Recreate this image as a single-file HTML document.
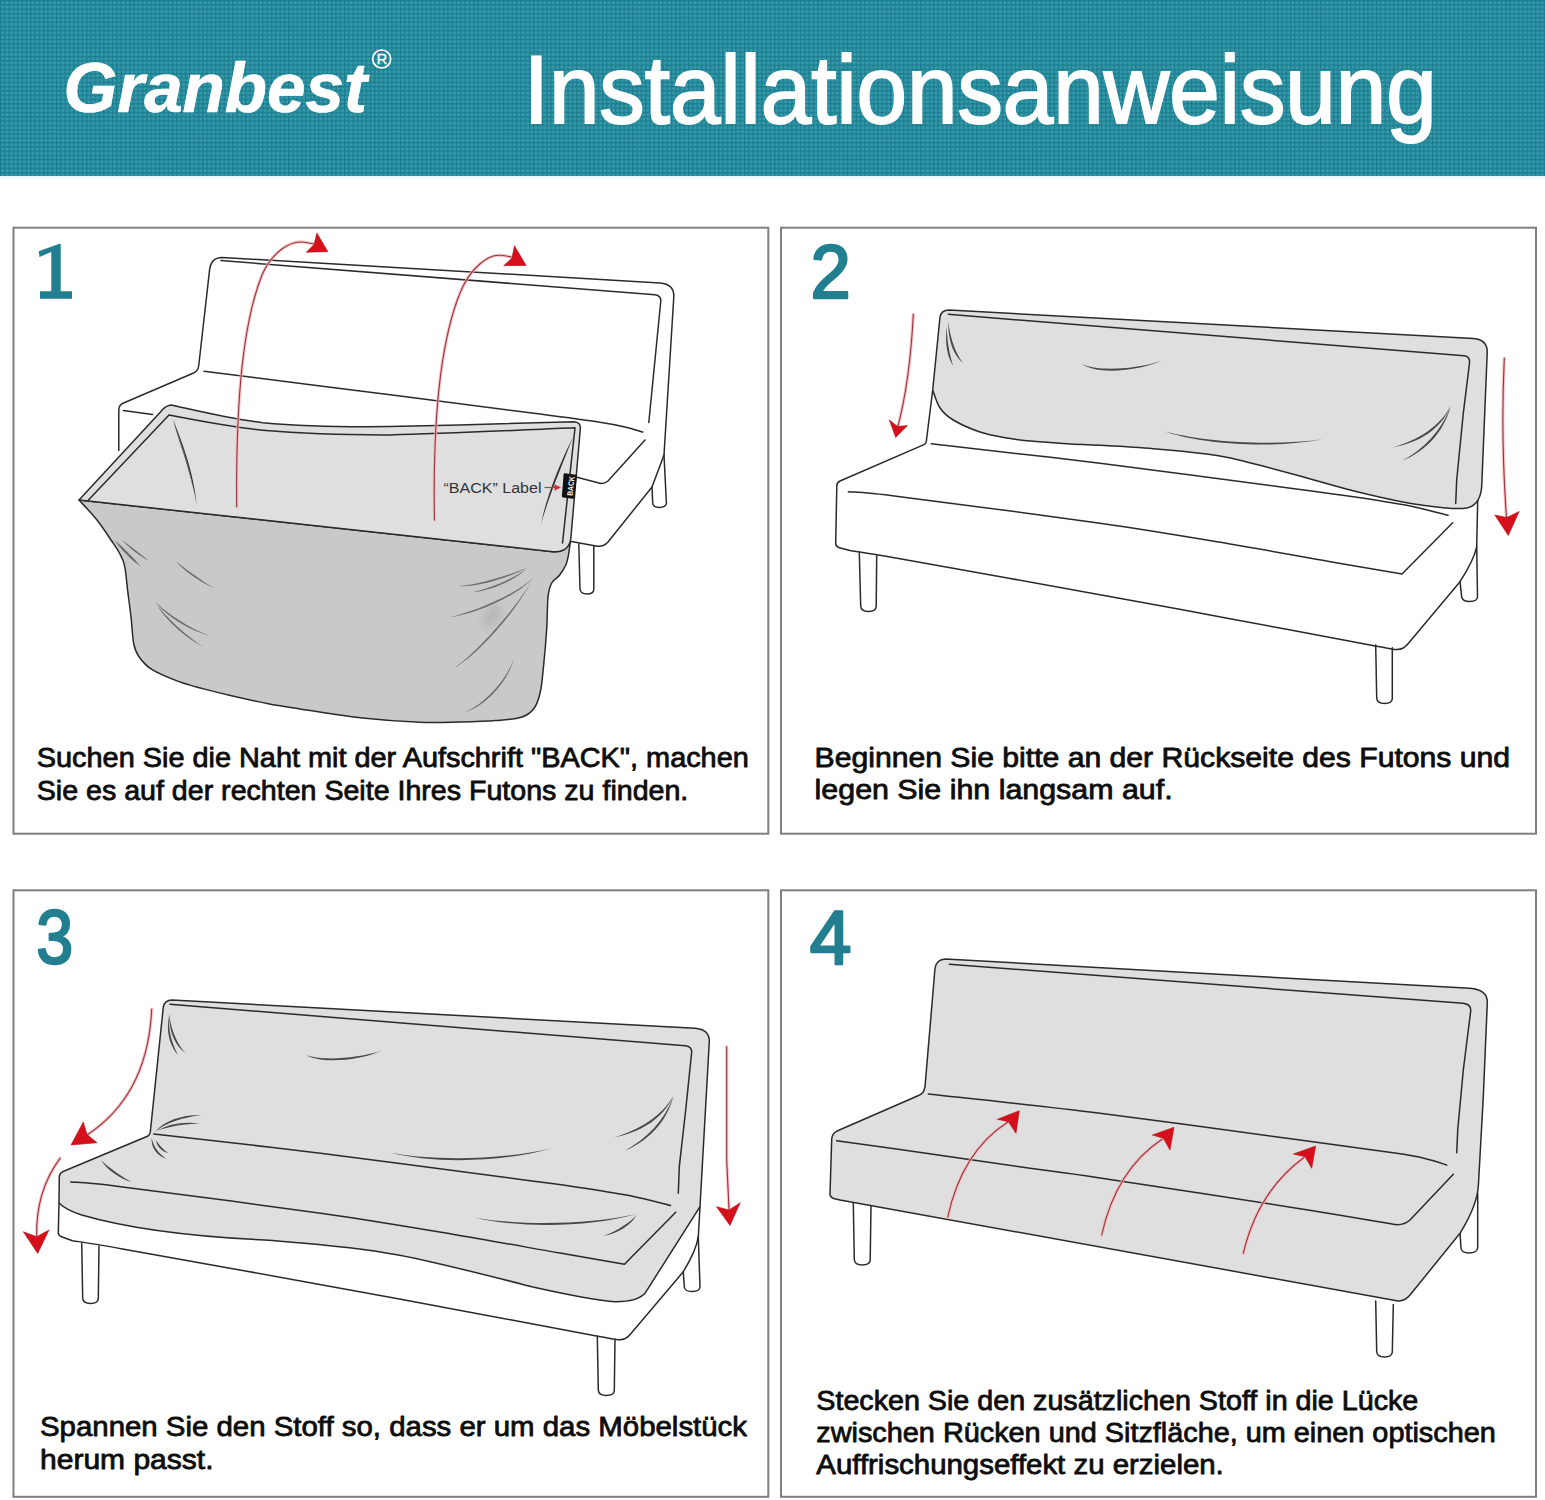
<!DOCTYPE html>
<html lang="de">
<head>
<meta charset="utf-8">
<title>Installationsanweisung</title>
<style>
html,body{margin:0;padding:0;background:#fff;}
body{width:1545px;height:1500px;overflow:hidden;font-family:"Liberation Sans",sans-serif;}
svg{display:block;position:absolute;left:0;top:0;}
.ln{fill:none;stroke:#2a2a2a;stroke-width:1.5;stroke-linecap:round;stroke-linejoin:round;}
.cv{fill:#dfdfdf;stroke:#2a2a2a;stroke-width:1.5;stroke-linejoin:round;}
.red{fill:none;stroke:#93363f;stroke-width:1.1;stroke-linecap:round;}
.halo{fill:none;stroke:#f9b4b6;stroke-width:3.2;stroke-linecap:round;opacity:0.8;}
.ah{fill:#d6101a;stroke:#b0101a;stroke-width:0.6;stroke-linejoin:round;}
.t{font-family:"Liberation Sans",sans-serif;font-size:27.5px;fill:#0d0d0d;stroke:#0d0d0d;stroke-width:0.8;stroke-linejoin:round;}
.num{font-family:"Liberation Sans",sans-serif;font-weight:bold;fill:#217f90;}
</style>
</head>
<body>
<svg width="1545" height="1500" viewBox="0 0 1545 1500">
<defs>
<pattern id="grid" width="4.3" height="4.3" patternUnits="userSpaceOnUse">
<rect width="4.3" height="4.3" fill="#3499aa"/>
<rect width="4.3" height="1.3" fill="#1c7d8f"/>
<rect width="1.3" height="4.3" fill="#1c7d8f"/>
</pattern>
<filter id="blur" x="-100%" y="-100%" width="300%" height="300%"><feGaussianBlur stdDeviation="4"/></filter>
</defs>
<g id="header">
<rect x="0" y="0" width="1545" height="176" fill="url(#grid)"/>
<rect x="0" y="176" width="1545" height="2.5" fill="#e9f8fa"/>
<text x="63.5" y="112.3" font-family="Liberation Sans, sans-serif" font-weight="bold" font-style="italic" font-size="70" fill="#fff" stroke="#fff" stroke-width="0.7" textLength="303.5" lengthAdjust="spacingAndGlyphs">Granbest</text>
<circle cx="381.7" cy="59" r="9" fill="none" stroke="#fff" stroke-width="1.7"/>
<text x="381.9" y="64.2" text-anchor="middle" font-family="Liberation Sans, sans-serif" font-size="14.5" fill="#fff" stroke="#fff" stroke-width="0.3">R</text>
<text x="523.7" y="123.3" font-family="Liberation Sans, sans-serif" font-size="96" fill="#fff" stroke="#fff" stroke-width="2" textLength="913" lengthAdjust="spacingAndGlyphs">Installationsanweisung</text>
</g>
<g id="frames" fill="#fff" stroke="#7f7f7f" stroke-width="2">
<rect x="13.5" y="227.7" width="754.8" height="606"/>
<rect x="781" y="227.7" width="755" height="606"/>
<rect x="13.5" y="890.3" width="754.8" height="606.5"/>
<rect x="781" y="890.3" width="755" height="606.5"/>
</g>
<g id="nums">
<path d="M38.7 251.3 L58.7 244 L60.7 244 L60.7 291.3 L72 291.3 L72 298.7 L40 298.7 L40 291.3 L51.3 291.3 L51.3 252 L39.5 256.9 Z" fill="#217f90"/>
<g font-family="Liberation Sans, sans-serif" font-size="75" fill="#217f90" stroke="#217f90" stroke-width="2.5" stroke-linejoin="round">
<text transform="translate(810.4 298.3) scale(0.964 1.013)">2</text>
<text transform="translate(36.2 963.3) scale(0.884 1.017)">3</text>
<text transform="translate(809.7 964) scale(1 1.005)">4</text>
</g>
</g>
<g id="p1">
<path class="ln" d="M118.8 450.6 L118.8 410 Q119 405 123 403.3 L193 373.3 Q198 371 198.7 366 L209.5 270.7 Q210.6 257.6 222 257.4 L660 282.9 Q674.5 284 673.8 297 L664 455 L666.4 503 Q666.3 507.3 659.3 507.5 Q652.8 507.3 652.7 503 L652 487"/>
<path class="ln" d="M221 260.6 L655 294.8 Q661.5 295.5 660.7 302 L648.8 422.5"/>
<path class="ln" d="M204.0 371.3 C236.7 375.4 344.0 388.9 400.0 396.0 C456.0 403.1 506.7 409.6 540.0 414.0 C573.3 418.4 585.8 420.1 600.0 422.3 C614.2 424.5 617.9 425.4 625.0 427.0 C632.1 428.6 639.8 431.2 642.7 432.0"/>
<path class="ln" d="M123.4 410.6 L152.5 414.6"/>
<path class="ln" d="M645 440 L608 481 Q603 485 596 482.3 L577 477.3"/>
<path class="ln" d="M664 455 L652 487 L608 542 Q603 547.5 596 546 L570 541.3"/>
<path class="ln" d="M578.8 544 L580 589 Q580.5 594 587 594 Q593.5 594 593.8 589.5 L593.8 546.5"/>
<path d="M79 500 Q316 525.3 553 551.7 Q566 552.5 570.5 541 C570.1 543.5 569.1 552.0 568.3 556.0 C567.5 560.0 567.2 562.0 565.7 565.3 C564.2 568.5 561.6 572.5 559.3 575.5 C557.0 578.5 553.6 579.4 551.7 583.0 C549.8 586.6 548.8 589.4 548.0 597.0 C547.2 604.6 547.5 617.1 546.7 628.7 C546.0 640.3 544.6 656.2 543.5 666.7 C542.4 677.2 541.9 685.0 540.3 692.0 C538.7 699.0 537.2 704.3 534.0 708.5 C530.8 712.7 527.6 715.3 521.3 717.3 C515.0 719.3 506.2 719.7 496.0 720.5 C485.8 721.3 472.7 721.7 460.0 722.0 C447.3 722.3 436.7 723.0 420.0 722.3 C403.3 721.6 380.0 720.0 360.0 717.8 C340.0 715.6 315.3 711.2 300.0 708.9 C284.7 706.6 280.1 706.1 268.3 703.8 C256.5 701.5 240.2 697.8 229.4 695.3 C218.6 692.8 212.2 691.3 203.6 688.9 C195.0 686.5 186.3 684.4 177.7 681.1 C169.1 677.9 158.3 673.5 151.8 669.4 C145.3 665.3 141.8 660.8 138.8 656.5 C135.8 652.2 135.0 650.1 133.7 643.6 C132.4 637.1 132.1 626.3 131.1 617.7 C130.1 609.1 128.9 600.4 127.8 591.8 C126.7 583.2 126.0 572.4 124.6 565.9 C123.2 559.4 121.7 557.3 119.4 553.0 C117.1 548.7 114.7 545.5 111.0 540.0 C107.3 534.5 102.3 526.7 97.0 520.0 C91.7 513.3 82.0 503.3 79.0 500.0 Z" fill="#c9c9c9" stroke="#2a2a2a" stroke-width="1.5" stroke-linejoin="round"/>
<ellipse cx="492" cy="616" rx="7" ry="13" transform="rotate(28 492 616)" fill="#b6b6b6" filter="url(#blur)"/>
<path class="cv" d="M79 500 L160 412.6 Q164.5 406 171 405 C190 409 230 419 262.7 422.7 C300 426 350 427 389.4 426.5 C450 425.5 520 423 574 421.7 Q581 422 580.3 429 L570.8 538.8 Q569 551 556 551.8 L553 551.7 Q316 525.3 79 500 Z"/>
<path class="ln" d="M88 500.5 L169 415 C190 419 230 427 262.7 430.3 C300 433.5 350 435 389.4 434.9 C450 433.5 520 430 575 427.8 L562.5 543"/>
<path d="M172.8 419.0 C178.8 440.3 190.8 470.3 196.8 505.0 C193.2 469.7 181.2 439.7 172.8 419.0 Z" fill="#333"/><path d="M173.5 422.0 C179.2 442.2 187.2 462.2 193.0 488.0 C188.8 461.8 180.8 441.8 173.5 422.0 Z" fill="#666"/><path d="M573.0 437.0 C560.8 461.6 546.8 494.6 541.0 524.0 C549.2 495.4 563.2 462.4 573.0 437.0 Z" fill="#333"/>
<path d="M114.2 540.0 C121.2 549.8 131.2 559.8 141.4 567.2 C132.8 558.2 122.8 548.2 114.2 540.0 Z" fill="#6e6e6e"/>
<path d="M122.0 540.0 C129.3 547.9 139.3 555.9 148.5 560.7 C140.7 554.1 130.7 546.1 122.0 540.0 Z" fill="#6e6e6e"/>
<path d="M117.0 542.0 C124.2 551.8 132.2 559.8 139.0 564.7 C133.8 558.2 125.8 550.2 117.0 542.0 Z" fill="#6e6e6e"/>
<path d="M176.4 561.4 C180.4 567.9 199.4 581.9 215.2 588.5 C200.6 580.1 181.6 566.1 176.4 561.4 Z" fill="#6e6e6e"/>
<path d="M155.7 601.5 C163.4 614.0 187.4 630.0 211.3 636.4 C188.6 628.0 164.6 612.0 155.7 601.5 Z" fill="#6e6e6e"/>
<path d="M157.0 604.7 C163.2 616.8 183.2 636.8 203.6 646.8 C184.8 635.2 164.8 615.2 157.0 604.7 Z" fill="#6e6e6e"/>
<path d="M458.0 586.2 C478.3 587.1 508.3 578.1 527.7 567.2 C507.7 575.9 477.7 584.9 458.0 586.2 Z" fill="#6e6e6e"/>
<path d="M473.2 592.0 C488.4 591.0 512.4 582.0 526.4 569.1 C511.6 580.0 487.6 589.0 473.2 592.0 Z" fill="#6e6e6e"/>
<path d="M449.1 617.3 C475.5 614.0 515.5 597.0 534.0 577.4 C514.5 595.0 474.5 612.0 449.1 617.3 Z" fill="#6e6e6e"/>
<path d="M451.7 669.8 C475.8 656.8 512.8 615.8 531.5 581.8 C511.2 614.2 474.2 655.2 451.7 669.8 Z" fill="#6e6e6e"/>
<path d="M464.3 712.3 C482.8 707.8 506.8 684.8 514.4 657.8 C505.2 683.2 481.2 706.2 464.3 712.3 Z" fill="#6e6e6e"/>
<path class="halo" d="M236.7 506.7 C236 420 240 330 262 275 C272 252 290 241 302 242 Q308 242.5 313 243.8"/><path class="red" d="M236.7 506.7 C236 420 240 330 262 275 C272 252 290 241 302 242 Q308 242.5 313 243.8"/>
<path class="ah" d="M316.9 233 L327.9 251.7 L306.3 252.2 L314 244.5 Z"/>
<path class="halo" d="M434.5 520 C433 440 437 350 460 293 C470 268 488 254.5 500 255.3 Q506 255.7 511 257"/><path class="red" d="M434.5 520 C433 440 437 350 460 293 C470 268 488 254.5 500 255.3 Q506 255.7 511 257"/>
<path class="ah" d="M514.4 245.7 L526.1 265.4 L503.7 265.7 L512 258 Z"/>
<text x="443.5" y="493" font-family="Liberation Sans, sans-serif" font-size="15.3" fill="#333" textLength="98" lengthAdjust="spacingAndGlyphs">“BACK” Label</text>
<path d="M544.5 487.5 L556 487.5" stroke="#c8323a" stroke-width="1.2" fill="none"/>
<path d="M561 487.5 L554.5 484.3 L554.5 490.7 Z" fill="#c8323a"/>
<path d="M565 473.2 L575.8 474.8 Q577 475 576.9 476.3 L574.3 497.5 Q574.1 499 572.8 498.8 L563 497.6 Q561.8 497.4 561.9 496 L563.6 474.3 Q563.8 473 565 473.2 Z" fill="#111"/>
<text transform="translate(572.6 496) rotate(-84)" font-family="Liberation Sans, sans-serif" font-weight="bold" font-size="7.8" fill="#fff" textLength="19.5" lengthAdjust="spacingAndGlyphs">BACK</text>
</g>
<g id="p2">
<path class="ln" d="M932.7 390 L926.3 441.5 Q926 443.8 924 444.6 L840 481 Q836.9 482.5 836.8 486 L835.7 543 Q835.6 546 838.5 547.5 L850 550.5 C858.3 551.9 858.3 551.3 900.0 558.7 C941.7 566.1 1045.0 584.7 1100.0 594.7 C1155.0 604.7 1184.1 610.2 1230.0 618.7 C1275.9 627.2 1347.6 640.9 1375.3 646.0 C1403.0 651.1 1392.5 648.9 1396.0 649.5 Q1403.5 650 1408.7 643 L1460 581.7 Q1474 560 1476.7 546.7 L1477.7 499"/>
<path class="ln" d="M931.3 443.7 C959.4 447.0 1038.5 455.7 1100.0 463.3 C1161.5 470.9 1257.8 483.9 1300.0 489.5 C1342.2 495.1 1335.5 494.1 1353.3 496.7 C1371.1 499.3 1390.9 502.2 1406.7 505.3 C1422.5 508.4 1441.1 513.6 1448.0 515.3"/>
<path class="ln" d="M848.3 491.7 C856.9 492.5 858.0 491.4 900.0 496.7 C942.0 502.0 1045.0 515.4 1100.0 523.3 C1155.0 531.2 1190.4 537.4 1230.0 544.0 C1269.6 550.6 1308.8 557.9 1337.5 562.9 C1366.2 567.9 1391.2 572.1 1402.0 574.0 L1452.7 522.7"/>
<path class="ln" d="M859.3 552.7 L860.7 606 Q861 611.5 868.5 611.5 Q876 611.5 876.2 606.5 L876.7 555.5"/>
<path class="ln" d="M1375.7 645 L1376.7 698 Q1377 703.5 1384.5 703.5 Q1392 703.5 1392.3 698.5 L1392.3 647.8"/>
<path class="ln" d="M1460 581.7 L1461.7 597 Q1462.5 601.5 1469.5 601.5 Q1477 601.5 1477.5 597 L1476.7 546.7"/>
<path class="cv" d="M932.7 390 L940 317 Q941 310.3 949 310 L1473.5 338.6 Q1487.8 339.8 1487.2 353 L1481.7 486.7 Q1480 507.5 1463 508.5 C1460.3 508.4 1456.1 509.0 1446.7 508.0 C1437.3 507.0 1422.3 505.6 1406.7 502.7 C1391.1 499.8 1370.8 495.1 1353.0 490.7 C1335.2 486.2 1315.5 480.2 1300.0 476.0 C1284.5 471.8 1271.1 468.2 1260.0 465.3 C1248.9 462.4 1242.2 460.6 1233.3 458.7 C1224.4 456.8 1220.0 455.7 1206.7 454.0 C1193.4 452.3 1171.1 450.1 1153.3 448.7 C1135.5 447.2 1114.4 446.1 1100.0 445.3 C1085.6 444.5 1077.8 444.4 1066.7 443.7 C1055.6 443.0 1043.3 442.2 1033.3 441.3 C1023.3 440.4 1015.6 439.6 1006.7 438.0 C997.8 436.4 988.9 435.0 980.0 432.0 C971.1 429.0 960.0 424.0 953.3 420.0 C946.6 416.0 943.4 413.0 940.0 408.0 C936.6 403.0 933.9 393.0 932.7 390.0 Z"/>
<path class="ln" d="M948.3 314.3 L1464 355.8 Q1470.3 356.5 1469.5 363 L1463.3 413.3 L1456.7 480 L1455.7 503.5"/>
<path d="M948.3 321.7 C947.7 340.5 953.7 355.5 963.3 363.3 C956.3 354.5 950.3 339.5 948.3 321.7 Z" fill="#484848"/>
<path d="M946.7 326.7 C944.7 345.2 947.7 357.2 953.3 366.0 C950.3 356.8 947.3 344.8 946.7 326.7 Z" fill="#484848"/>
<path d="M1081.7 364.0 C1095.0 373.3 1130.0 373.3 1161.7 361.0 C1130.0 370.7 1095.0 370.7 1081.7 364.0 Z" fill="#484848"/>
<path d="M1161.7 430.5 C1199.9 444.3 1269.9 449.3 1323.3 439.3 C1270.1 446.7 1200.1 441.7 1161.7 430.5 Z" fill="#484848"/>
<path d="M1391.7 447.7 C1420.8 442.1 1440.8 429.1 1450.7 406.0 C1439.2 426.9 1419.2 439.9 1391.7 447.7 Z" fill="#484848"/>
<path d="M1401.7 461.0 C1426.0 450.9 1443.0 432.9 1450.7 406.7 C1441.0 431.1 1424.0 449.1 1401.7 461.0 Z" fill="#484848"/>
<path class="halo" d="M913.3 314.3 C911 360 905 400 897.5 428"/><path class="red" d="M913.3 314.3 C911 360 905 400 897.5 428"/>
<path class="ah" d="M895.7 437.5 L889.3 420 L897.7 426.5 L907.5 425.5 Z"/>
<path class="halo" d="M1504.3 358.4 C1502.3 400 1502 455 1506.5 518"/><path class="red" d="M1504.3 358.4 C1502.3 400 1502 455 1506.5 518"/>
<path class="ah" d="M1508.3 535.5 L1494.8 515 L1506.7 517.5 L1519.2 511.5 Z"/>
</g>
<g id="p3">
<path class="ln" d="M59 1203 L58.3 1232.5 Q58.3 1235.5 61.5 1236.7 L72.5 1240.7 C80.8 1242.1 80.8 1241.5 122.5 1248.9 C164.2 1256.3 267.5 1274.9 322.5 1284.9 C377.5 1294.9 406.6 1300.4 452.5 1308.9 C498.4 1317.5 570.1 1331.1 597.8 1336.2 C625.5 1341.3 615.0 1339.1 618.5 1339.7 Q626 1340.2 631.2 1333.2 L683.3 1271.7 Q696.3 1250.5 698.3 1236.7 L700 1206.7"/>
<path class="ln" d="M81.7 1243 L82.7 1298 Q83 1303.5 90.5 1303.5 Q98 1303.5 98.3 1298.5 L99 1246"/>
<path class="ln" d="M597.3 1336 L598.3 1390 Q598.6 1395.5 606.3 1395.5 Q614 1395.5 614.3 1390.5 L615 1339"/>
<path class="ln" d="M683.3 1271.7 L684.3 1287 Q685 1291.5 692 1291.5 Q699.5 1291.5 700 1287 L698.3 1236.7"/>
<path class="cv" d="M163.3 1007 Q164.5 1000.3 172 1000 L695 1028.3 Q709.8 1029.5 709.3 1042 L700 1206.7 L645 1293.3 Q637 1302 615 1301.7 C595 1300.5 560 1293 531.7 1286.7 C490 1276 440 1263 398.3 1255 C350 1246 300 1243 265 1240 C200 1237 130 1229 81.7 1215 Q66 1210 59 1203 L59.3 1176.5 Q59.5 1173.3 62.5 1171.8 L147.5 1136.3 Q150 1135 150.3 1132 Z"/>
<path class="ln" d="M170 1004.3 L685.5 1045.8 Q692.3 1046.5 691.6 1053 L685.7 1110 L679.3 1166.7 L678.3 1193.3"/>
<path class="ln" d="M153.8 1133.9 C181.9 1137.2 261.1 1145.9 322.5 1153.5 C383.9 1161.1 480.3 1174.1 522.5 1179.7 C564.7 1185.3 558.0 1184.3 575.8 1186.9 C593.6 1189.5 613.4 1192.4 629.2 1195.5 C645.0 1198.6 663.6 1203.8 670.5 1205.5"/>
<path class="ln" d="M70.8 1181.9 C79.4 1182.7 80.5 1181.6 122.5 1186.9 C164.5 1192.2 267.5 1205.6 322.5 1213.5 C377.5 1221.4 412.9 1227.6 452.5 1234.2 C492.1 1240.8 531.3 1248.1 560.0 1253.1 C588.7 1258.1 613.8 1262.3 624.5 1264.2 L675.7 1212.3"/>
<path d="M169.0 1013.3 C168.8 1032.5 175.8 1046.5 185.7 1053.3 C178.2 1045.5 171.2 1031.5 169.0 1013.3 Z" fill="#484848"/>
<path d="M168.5 1016.0 C166.2 1035.3 170.7 1047.3 178.3 1055.0 C173.3 1046.7 168.8 1034.7 168.5 1016.0 Z" fill="#484848"/>
<path d="M155.0 1131.7 C165.4 1123.3 182.4 1117.3 201.7 1115.0 C181.6 1114.7 164.6 1120.7 155.0 1131.7 Z" fill="#484848"/>
<path d="M157.0 1131.0 C168.2 1126.3 185.2 1123.8 200.0 1123.5 C184.8 1121.2 167.8 1123.7 157.0 1131.0 Z" fill="#484848"/>
<path d="M151.7 1138.0 C150.9 1147.8 156.9 1155.8 166.7 1159.0 C159.1 1154.2 153.1 1146.2 151.7 1138.0 Z" fill="#484848"/>
<path d="M156.0 1140.0 C157.0 1146.9 161.0 1150.9 168.3 1153.3 C163.0 1149.1 159.0 1145.1 156.0 1140.0 Z" fill="#484848"/>
<path d="M101.0 1160.0 C107.2 1170.1 119.2 1178.1 131.7 1182.3 C120.8 1175.9 108.8 1167.9 101.0 1160.0 Z" fill="#484848"/>
<path d="M305.0 1054.5 C318.1 1063.3 355.1 1062.3 383.3 1050.3 C354.9 1059.7 317.9 1060.7 305.0 1054.5 Z" fill="#484848"/>
<path d="M390.0 1152.5 C430.0 1163.3 500.0 1163.3 551.7 1148.3 C500.0 1160.7 430.0 1160.7 390.0 1152.5 Z" fill="#484848"/>
<path d="M613.3 1137.7 C640.8 1132.1 662.8 1119.1 673.3 1096.0 C661.2 1116.9 639.2 1129.9 613.3 1137.7 Z" fill="#484848"/>
<path d="M625.0 1150.7 C649.0 1139.9 666.0 1122.9 673.3 1096.7 C664.0 1121.1 647.0 1138.1 625.0 1150.7 Z" fill="#484848"/>
<path d="M475.0 1217.7 C520.0 1228.3 590.0 1227.3 636.7 1214.0 C590.0 1224.7 520.0 1225.7 475.0 1217.7 Z" fill="#484848"/>
<path d="M603.3 1236.0 C618.7 1233.1 630.7 1225.1 636.7 1215.0 C629.3 1222.9 617.3 1230.9 603.3 1236.0 Z" fill="#484848"/>
<path class="halo" d="M151.7 1009 C149 1070 125 1110 87 1135"/><path class="red" d="M151.7 1009 C149 1070 125 1110 87 1135"/>
<path class="ah" d="M71 1145 L83.3 1122 L87 1134.5 L97 1142.7 Z"/>
<path class="halo" d="M60 1158.3 C44 1180 36 1205 36.7 1236"/><path class="red" d="M60 1158.3 C44 1180 36 1205 36.7 1236"/>
<path class="ah" d="M37.7 1253.5 L23.3 1231.7 L36.7 1236.7 L49 1230 Z"/>
<path class="halo" d="M726.7 1046.7 L726.7 1160 L729 1209"/><path class="red" d="M726.7 1046.7 L726.7 1160 L729 1209"/>
<path class="ah" d="M730 1225.5 L716.5 1206.7 L729 1210 L740.2 1202.7 Z"/>
</g>
<g id="p4">
<path class="ln" d="M853.3 1203 L854.3 1259.5 Q854.6 1265 862.2 1265 Q870 1265 870.2 1260 L871 1206.5"/>
<path class="ln" d="M1375.7 1301 L1376.7 1351.5 Q1377 1357 1384.5 1357 Q1392 1357 1392.3 1352 L1393.3 1304.5"/>
<path class="ln" d="M1460 1233.3 L1461 1248 Q1461.5 1253 1469 1253 Q1477 1253 1477.7 1248 L1477.7 1193.3"/>
<path class="cv" d="M935 968.3 Q936.5 959.3 945.5 959 L1470 988.3 Q1488 990 1487.3 1003 L1483.3 1096.7 L1478.4 1185 Q1477.5 1205 1460 1233.3 L1410 1295 Q1404 1302 1396.7 1300.7 L840 1200 L833.5 1198.6 Q829.8 1197 830 1194 L831.7 1139 Q832 1133.8 836.5 1131.3 L918 1095.8 Q924.3 1093.5 925 1086.7 Z"/>
<path class="ln" d="M949.3 964.3 L1463 1003.3 Q1471.3 1004.2 1470.7 1011 L1463.3 1070 L1457.7 1130 L1456.7 1152.7"/>
<path class="ln" d="M928.3 1094.0 C956.9 1097.2 1038.0 1105.6 1100.0 1113.3 C1162.0 1121.0 1250.5 1133.3 1300.0 1140.0 C1349.5 1146.7 1375.9 1150.2 1396.7 1153.3 C1417.5 1156.4 1416.7 1156.5 1425.0 1158.5 C1433.3 1160.5 1443.1 1163.9 1446.7 1165.0"/>
<path class="ln" d="M836.7 1140.7 C847.2 1142.2 867.8 1144.9 900.0 1149.5 C932.2 1154.1 996.7 1163.5 1030.0 1168.3 C1063.3 1173.0 1055.0 1171.3 1100.0 1178.0 C1145.0 1184.7 1251.1 1201.0 1300.0 1208.7 C1348.9 1216.4 1377.8 1221.7 1393.3 1224.3 Q1403 1226 1410 1220 L1453.3 1174.3"/>
<path class="halo" d="M947.7 1217.3 C958 1170 980 1140 1007.5 1122.3"/><path class="red" d="M947.7 1217.3 C958 1170 980 1140 1007.5 1122.3"/>
<path class="ah" d="M1019.3 1110.7 L997.3 1119.3 L1008.3 1121.7 L1016 1133.3 Z"/>
<path class="halo" d="M1101.7 1235 C1112 1188 1134 1158 1162 1139.3"/><path class="red" d="M1101.7 1235 C1112 1188 1134 1158 1162 1139.3"/>
<path class="ah" d="M1174 1127.3 L1152.3 1135 L1163.3 1138.3 L1170 1150 Z"/>
<path class="halo" d="M1243.3 1253.3 C1254 1208 1276 1178 1304 1157.5"/><path class="red" d="M1243.3 1253.3 C1254 1208 1276 1178 1304 1157.5"/>
<path class="ah" d="M1315.7 1146 L1293.3 1154 L1305 1156.7 L1311.7 1168.3 Z"/>
</g>
<g id="texts">
<text class="t" x="36.8" y="767.3" textLength="712" lengthAdjust="spacingAndGlyphs">Suchen Sie die Naht mit der Aufschrift "BACK", machen</text>
<text class="t" x="36.8" y="799.5" textLength="651.5" lengthAdjust="spacingAndGlyphs">Sie es auf der rechten Seite Ihres Futons zu finden.</text>
<text class="t" x="814.6" y="766.6" textLength="695.5" lengthAdjust="spacingAndGlyphs">Beginnen Sie bitte an der Rückseite des Futons und</text>
<text class="t" x="814.6" y="799.4" textLength="358" lengthAdjust="spacingAndGlyphs">legen Sie ihn langsam auf.</text>
<text class="t" x="40" y="1435.5" textLength="707" lengthAdjust="spacingAndGlyphs">Spannen Sie den Stoff so, dass er um das Möbelstück</text>
<text class="t" x="40" y="1469.3" textLength="173.5" lengthAdjust="spacingAndGlyphs">herum passt.</text>
<text class="t" x="816.3" y="1409.8" textLength="602" lengthAdjust="spacingAndGlyphs">Stecken Sie den zusätzlichen Stoff in die Lücke</text>
<text class="t" x="816.3" y="1441.7" textLength="679.5" lengthAdjust="spacingAndGlyphs">zwischen Rücken und Sitzfläche, um einen optischen</text>
<text class="t" x="816.3" y="1474" textLength="407.5" lengthAdjust="spacingAndGlyphs">Auffrischungseffekt zu erzielen.</text>
</g>
</svg>
</body>
</html>
